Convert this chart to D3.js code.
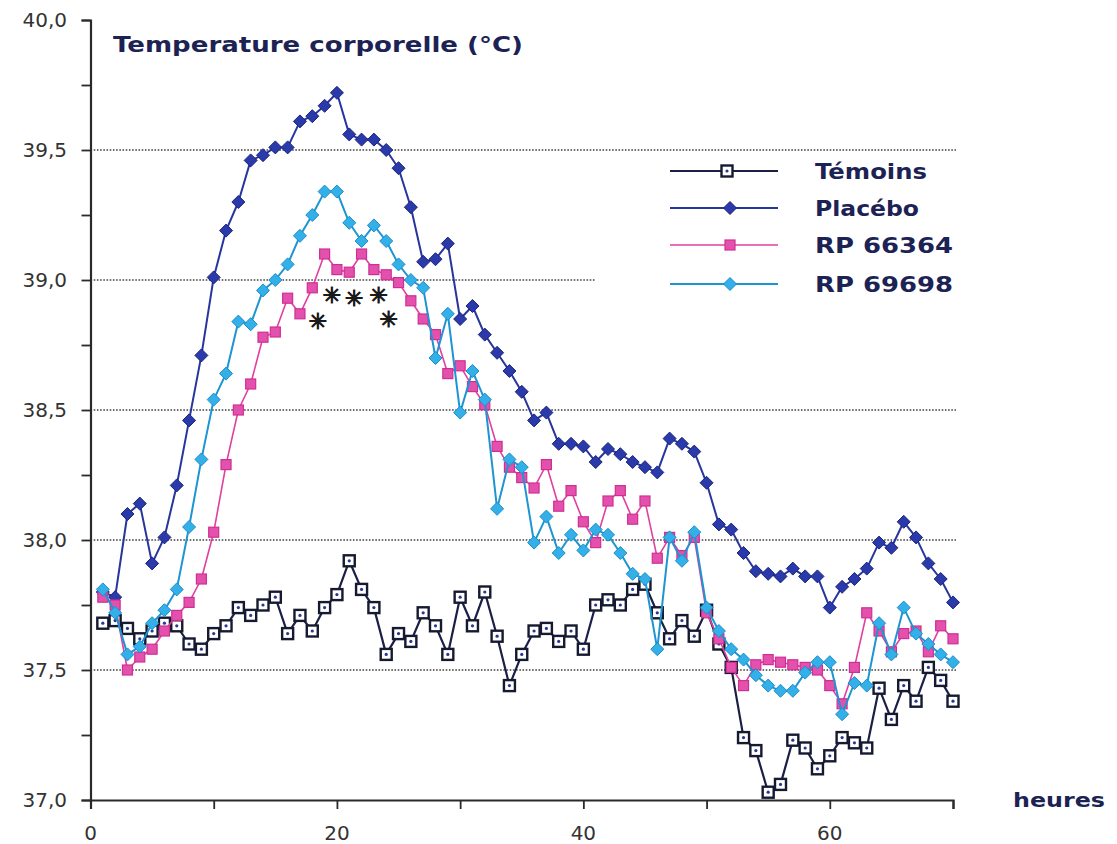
<!DOCTYPE html>
<html>
<head>
<meta charset="utf-8">
<script src="https://cdn.jsdelivr.net/npm/d3@7/dist/d3.min.js"></script>
<style>
  html, body { margin: 0; padding: 0; background: #ffffff; }
  svg { display: block; }
</style>
</head>
<body>
<svg id="chart" width="1117" height="844"></svg>
<script>
// ---------------- DATA ----------------
const hours = [1,2,3,4,5,6,7,8,9,10,11,12,13,14,15,16,17,18,19,20,
  21,22,23,24,25,26,27,28,29,30,31,32,33,34,35,36,37,38,39,40,
  41,42,43,44,45,46,47,48,49,50,51,52,53,54,55,56,57,58,59,60,
  61,62,63,64,65,66,67,68,69,70];

const temoins = [37.68,37.69,37.66,37.62,37.65,37.68,37.67,37.60,37.58,37.64,
  37.67,37.74,37.71,37.75,37.78,37.64,37.71,37.65,37.74,37.79,
  37.92,37.81,37.74,37.56,37.64,37.61,37.72,37.67,37.56,37.78,
  37.67,37.80,37.63,37.44,37.56,37.65,37.66,37.61,37.65,37.58,
  37.75,37.77,37.75,37.81,37.83,37.72,37.62,37.69,37.63,37.73,
  37.60,37.51,37.24,37.19,37.03,37.06,37.23,37.20,37.12,37.17,
  37.24,37.22,37.20,37.43,37.31,37.44,37.38,37.51,37.46,37.38];

const placebo = [37.80,37.78,38.10,38.14,37.91,38.01,38.21,38.46,38.71,39.01,
  39.19,39.30,39.46,39.48,39.51,39.51,39.61,39.63,39.67,39.72,
  39.56,39.54,39.54,39.50,39.43,39.28,39.07,39.08,39.14,38.85,
  38.90,38.79,38.72,38.65,38.57,38.46,38.49,38.37,38.37,38.36,
  38.30,38.35,38.33,38.30,38.28,38.26,38.39,38.37,38.34,38.22,
  38.06,38.04,37.95,37.88,37.87,37.86,37.89,37.86,37.86,37.74,
  37.82,37.85,37.89,37.99,37.97,38.07,38.01,37.91,37.85,37.76];

const rp66364 = [37.78,37.75,37.50,37.55,37.58,37.65,37.71,37.76,37.85,38.03,
  38.29,38.50,38.60,38.78,38.80,38.93,38.87,38.97,39.10,39.04,
  39.03,39.10,39.04,39.02,38.99,38.92,38.85,38.79,38.64,38.67,
  38.59,38.52,38.36,38.28,38.24,38.20,38.29,38.13,38.19,38.07,
  37.99,38.15,38.19,38.08,38.15,37.93,38.01,37.94,38.01,37.72,
  37.62,37.51,37.44,37.52,37.54,37.53,37.52,37.51,37.50,37.44,
  37.37,37.51,37.72,37.65,37.57,37.64,37.65,37.57,37.67,37.62];

const rp69698 = [37.81,37.72,37.56,37.59,37.68,37.73,37.81,38.05,38.31,38.54,
  38.64,38.84,38.83,38.96,39.00,39.06,39.17,39.25,39.34,39.34,
  39.22,39.15,39.21,39.15,39.06,39.00,38.97,38.70,38.87,38.49,
  38.65,38.54,38.12,38.31,38.28,37.99,38.09,37.95,38.02,37.96,
  38.04,38.02,37.95,37.87,37.85,37.58,38.01,37.92,38.03,37.74,
  37.65,37.58,37.54,37.48,37.44,37.42,37.42,37.49,37.53,37.53,
  37.33,37.45,37.44,37.68,37.56,37.74,37.64,37.60,37.56,37.53];

const seriesNames = ["Témoins", "Placébo", "RP 66364", "RP 69698"];

const yTicksMinor = [37.0,37.25,37.5,37.75,38.0,38.25,38.5,38.75,39.0,39.25,39.5,39.75,40.0];
const yTickValues = [37.0,37.5,38.0,38.5,39.0,39.5,40.0];
const yTickLabels = ["37,0","37,5","38,0","38,5","39,0","39,5","40,0"];
const xTickValues = [0,10,20,30,40,50,60,70];
const xLabelValues = [0,20,40,60];
const xTickLabels = ["0","20","40","60"];
const gridFull = [37.5,38.0,38.5,39.5];
const gridShort = [39.0];          // partially hidden by legend
const gridShortEnd = 41;           // hours
const starHours = [18.47,19.6,21.4,23.4,24.2];
const starTemps = [38.84,38.94,38.93,38.94,38.85];

const titleText = "Temperature corporelle (°C)";
const xAxisTitle = "heures";

// ---------------- DRAW ----------------
const svg = d3.select("#chart");
const x = d3.scaleLinear().domain([0, 70]).range([90.5, 953]);
const y = d3.scaleLinear().domain([37, 40]).range([800, 20]);

const axisColor = "#2a2a2a";
const textNavy = "#1c2354";
const font = "'DejaVu Sans', Verdana, sans-serif";

// gridlines (dotted)
svg.append("g").selectAll("line").data(gridFull).join("line")
  .attr("x1", x(0)).attr("x2", x(70) + 3)
  .attr("y1", d => y(d)).attr("y2", d => y(d))
  .attr("stroke", "#444").attr("stroke-width", 1.6)
  .attr("stroke-dasharray", "1.6,1.6");
svg.append("g").selectAll("line").data(gridShort).join("line")
  .attr("x1", x(0)).attr("x2", x(gridShortEnd))
  .attr("y1", d => y(d)).attr("y2", d => y(d))
  .attr("stroke", "#444").attr("stroke-width", 1.6)
  .attr("stroke-dasharray", "1.6,1.6");

// y axis
const yAxis = d3.axisLeft(y).tickValues(yTicksMinor).tickSize(9).tickFormat("");
const gy = svg.append("g").attr("transform", `translate(${x(0)},0)`).call(yAxis);
gy.select(".domain").attr("stroke", axisColor).attr("stroke-width", 2.2);
gy.selectAll(".tick line").attr("stroke", axisColor).attr("stroke-width", 1.8);
svg.append("g").selectAll("text").data(yTickValues).join("text")
  .attr("x", 67).attr("y", d => y(d))
  .attr("dy", "0.36em")
  .attr("text-anchor", "end")
  .attr("font-family", font).attr("font-size", 20).attr("fill", "#333")
  .text((d, i) => yTickLabels[i]);

// x axis
const xAxis = d3.axisBottom(x).tickValues(xTickValues).tickSize(9).tickFormat("");
const gx = svg.append("g").attr("transform", `translate(0,${y(37)})`).call(xAxis);
gx.select(".domain").attr("stroke", axisColor).attr("stroke-width", 2.2);
gx.selectAll(".tick line").attr("stroke", axisColor).attr("stroke-width", 1.8);
svg.append("g").selectAll("text").data(xLabelValues).join("text")
  .attr("x", d => x(d)).attr("y", 840)
  .attr("text-anchor", "middle")
  .attr("font-family", font).attr("font-size", 20).attr("fill", "#333")
  .text((d, i) => xTickLabels[i]);

// axis titles
svg.append("text").attr("x", 113).attr("y", 52)
  .attr("font-family", font).attr("font-size", 21).attr("font-weight", "bold")
  .attr("fill", textNavy).attr("textLength", 410).attr("lengthAdjust", "spacingAndGlyphs")
  .text(titleText);
svg.append("text").attr("x", 1013).attr("y", 807)
  .attr("font-family", font).attr("font-size", 20).attr("font-weight", "bold")
  .attr("fill", textNavy).attr("textLength", 92).attr("lengthAdjust", "spacingAndGlyphs")
  .text(xAxisTitle);

// series definitions
const styles = [
  { data: temoins, line: "#1b1f45", width: 2.2, marker: "openSquare" },
  { data: placebo, line: "#27359c", width: 2.0, marker: "diamond", fill: "#2b3aaa", stroke: "#1b247a" },
  { data: rp66364, line: "#e0409e", width: 1.6, marker: "square", fill: "#e451ad", stroke: "#cf2f94" },
  { data: rp69698, line: "#1d95d3", width: 2.0, marker: "diamond", fill: "#34b0e8", stroke: "#1b8dcc" }
];

const lineGen = d3.line().x(d => x(d[0])).y(d => y(d[1]));

function drawMarker(g, type, s) {
  if (type === "openSquare") {
    g.append("rect").attr("x", -5.5).attr("y", -5.5).attr("width", 11).attr("height", 11)
      .attr("fill", "#fff").attr("stroke", "#161a30").attr("stroke-width", 2.4);
    g.append("circle").attr("r", 1.6).attr("fill", "#27359c");
  } else if (type === "diamond") {
    g.append("path").attr("d", "M0,-6.5L6.5,0L0,6.5L-6.5,0Z")
      .attr("fill", s.fill).attr("stroke", s.stroke).attr("stroke-width", 1);
  } else if (type === "square") {
    g.append("rect").attr("x", -5).attr("y", -5).attr("width", 10).attr("height", 10)
      .attr("fill", s.fill).attr("stroke", s.stroke).attr("stroke-width", 1.2);
  }
}

styles.forEach(s => {
  const pts = hours.map((h, i) => [h, s.data[i]]);
  const g = svg.append("g");
  g.append("path").datum(pts).attr("d", lineGen)
    .attr("fill", "none").attr("stroke", s.line).attr("stroke-width", s.width)
    .attr("stroke-linejoin", "round");
  g.selectAll("g.m").data(pts).join("g").attr("class", "m")
    .attr("transform", d => `translate(${x(d[0])},${y(d[1])})`)
    .each(function() { drawMarker(d3.select(this), s.marker, s); });
});

// significance asterisks
svg.append("g").selectAll("text").data(starHours).join("text")
  .attr("x", d => x(d)).attr("y", (d, i) => y(starTemps[i]))
  .attr("dy", "0.35em").attr("text-anchor", "middle")
  .attr("font-family", font).attr("font-size", 22).attr("font-weight", "bold")
  .attr("fill", "#1a1a1a").attr("stroke", "#1a1a1a").attr("stroke-width", 1.1)
  .text("✳");

// legend
const legY = [171, 208, 245, 284];
const leg = svg.append("g");
styles.forEach((s, i) => {
  leg.append("line").attr("x1", 670).attr("x2", 778)
    .attr("y1", legY[i]).attr("y2", legY[i])
    .attr("stroke", s.line).attr("stroke-width", s.width);
  const m = leg.append("g").attr("transform", `translate(${i === 0 ? 727 : 730},${legY[i]})`);
  drawMarker(m, s.marker, s);
  leg.append("text").attr("x", 815).attr("y", legY[i] + 8)
    .attr("font-family", font).attr("font-size", 21).attr("font-weight", "bold")
    .attr("fill", textNavy)
    .attr("textLength", [112, 104, 138, 138][i]).attr("lengthAdjust", "spacingAndGlyphs")
    .text(seriesNames[i]);
});
</script>
</body>
</html>
